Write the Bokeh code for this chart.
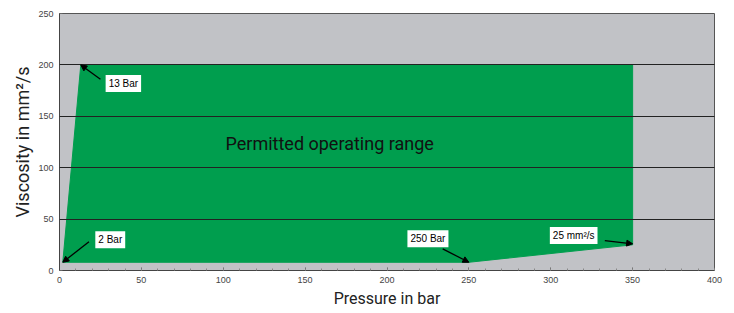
from bokeh.plotting import figure
from bokeh.models import Label, Arrow, NormalHead, FixedTicker, Range1d
from bokeh.embed import file_html
from bokeh.resources import INLINE

# Data
region_pressure = [2, 13, 350, 350, 250, 2]
region_viscosity = [8, 200, 200, 25, 8, 8]

x_ticks = [0, 50, 100, 150, 200, 250, 300, 350, 400]
y_ticks = [0, 50, 100, 150, 200, 250]

# annotations: text, label x, label y, arrow start x, y, arrow end x, y
ann_text = ["13 Bar", "2 Bar", "250 Bar", "25 mm²/s"]
ann_lx = [39, 31, 225, 314]
ann_ly = [182, 30, 31, 34]
ann_sx = [25, 18, 234, 333]
ann_sy = [186, 28, 21, 29]
ann_ex = [13, 2, 250, 350]
ann_ey = [200, 8, 8, 26]

FONT = "Roboto"

p = figure(width=730, height=312, output_backend="svg", toolbar_location=None,
           x_range=Range1d(0, 400), y_range=Range1d(0, 250),
           min_border_left=59, min_border_right=16, min_border_top=13, min_border_bottom=42)
p.background_fill_color = "#c1c2c6"
p.border_fill_color = "white"
p.outline_line_color = "#555555"
p.outline_line_width = 1

p.patch(region_pressure, region_viscosity, fill_color="#009e4e", line_color="#009e4e")

p.xgrid.visible = False
p.ygrid.grid_line_color = "#222222"
p.ygrid.grid_line_width = 1
p.ygrid.level = "annotation"
p.ygrid.ticker = FixedTicker(ticks=y_ticks)

p.xaxis.ticker = FixedTicker(ticks=x_ticks, minor_ticks=list(range(0, 401, 10)))
p.yaxis.ticker = FixedTicker(ticks=y_ticks)
for ax in (p.xaxis[0], p.yaxis[0]):
    ax.major_label_text_font_size = "9px"
    ax.major_label_text_color = "#444444"
    ax.major_label_text_font = "Liberation Sans"
    ax.axis_line_color = "#444444"
    ax.major_tick_out = 0
    ax.major_tick_in = 3
    ax.minor_tick_out = 0
    ax.minor_tick_in = 0
    ax.major_tick_line_color = "#666666"
    ax.axis_label_text_font_style = "normal"
    ax.axis_label_text_color = "#222222"
    ax.axis_label_text_font = FONT
p.xaxis.minor_tick_in = 2
p.xaxis.minor_tick_line_color = "#888888"
p.xaxis.major_label_standoff = 6
p.yaxis.major_label_standoff = 6
p.xaxis.axis_label = "Pressure in bar"
p.xaxis.axis_label_text_font_size = "16px"
p.xaxis.axis_label_standoff = 3
p.yaxis.axis_label = "Viscosity in mm²/s"
p.yaxis.axis_label_text_font_size = "18px"
p.yaxis.axis_label_standoff = 2

p.add_layout(Label(x=165, y=124, text="Permitted operating range", text_font=FONT,
                   text_font_size="18px", text_color="#111111",
                   text_align="center", text_baseline="middle"))

for t, lx, ly, sx, sy, ex, ey in zip(ann_text, ann_lx, ann_ly, ann_sx, ann_sy, ann_ex, ann_ey):
    p.add_layout(Arrow(x_start=sx, y_start=sy, x_end=ex, y_end=ey, line_color="black",
                       line_width=1.3,
                       end=NormalHead(size=6, fill_color="black", line_color="black")))
    p.add_layout(Label(x=lx, y=ly, text=t, text_font="Liberation Sans", text_font_size="10px",
                       text_color="black", text_align="center", text_baseline="middle",
                       background_fill_color="white", padding=3))

open("out.html", "w").write(file_html(p, INLINE))
